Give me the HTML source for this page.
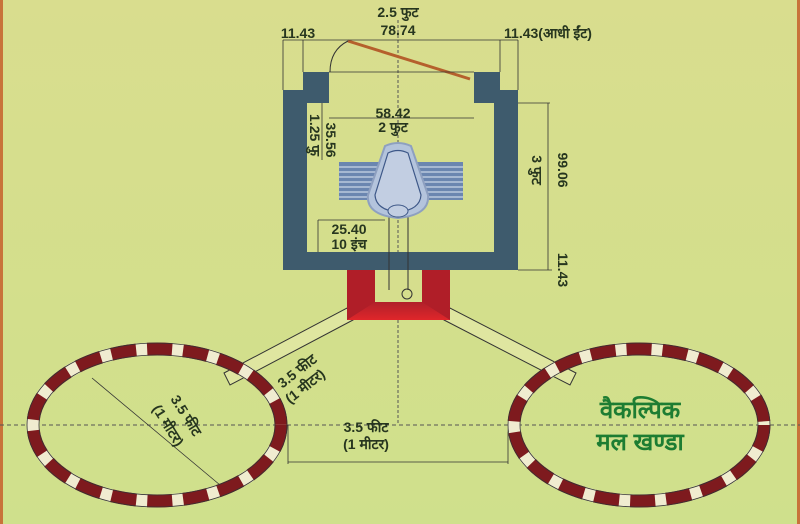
<!DOCTYPE html>
<html><head><meta charset="utf-8"><style>
html,body{margin:0;padding:0;width:800px;height:524px;overflow:hidden}
body{background:linear-gradient(180deg,#d9dd8e 0%,#d3df8c 60%,#cfe08c 100%)}
svg{position:absolute;left:0;top:0}
text{font-family:"Liberation Sans","Noto Sans CJK SC",sans-serif;fill:#27361f;font-weight:bold}
</style></head><body>
<svg width="800" height="524" viewBox="0 0 800 524">
<defs>
<linearGradient id="rg" x1="0" y1="0" x2="0" y2="1"><stop offset="0" stop-color="#b0202a"/><stop offset="1" stop-color="#e0262a"/></linearGradient>
</defs>
<rect x="0" y="0" width="3" height="524" fill="#c8733a"/>
<rect x="797" y="0" width="3" height="524" fill="#c8733a"/>
<line x1="0" y1="425" x2="800" y2="425" stroke="#555" stroke-width="1" stroke-dasharray="4,3"/>
<line x1="398" y1="20" x2="398" y2="425" stroke="#555" stroke-width="1" stroke-dasharray="3,2"/>
<g fill="#dfe6a0" stroke="#333" stroke-width="1">
<polygon points="347,308 353,320 230,385 224,373"/>
<polygon points="450,308 444,320 570,385 576,373"/>
</g>
<g fill="#3e5b6d">
<rect x="283" y="90" width="24" height="180"/>
<rect x="494" y="90" width="24" height="180"/>
<rect x="283" y="252" width="235" height="18"/>
<rect x="303" y="72" width="26" height="31"/>
<rect x="474" y="72" width="26" height="31"/>
<rect x="283" y="90" width="46" height="13"/>
<rect x="474" y="90" width="44" height="13"/>
</g>
<rect x="347" y="270" width="103" height="50" fill="#b01e28"/>
<polygon points="347,320 375,302 422,302 450,320" fill="url(#rg)"/>
<rect x="375" y="270" width="47" height="32" fill="#d6de8d"/>
<line x1="389" y1="215" x2="389" y2="290" stroke="#333" stroke-width="1"/>
<line x1="408" y1="215" x2="408" y2="290" stroke="#333" stroke-width="1"/>
<circle cx="407" cy="294" r="5" fill="none" stroke="#333"/>
<g fill="#6b86b0"><rect x="339" y="162" width="124" height="38"/></g>
<g stroke="#c9d6e6" stroke-width="1.3">
<line x1="339" y1="167" x2="463" y2="167"/><line x1="339" y1="172" x2="463" y2="172"/><line x1="339" y1="177" x2="463" y2="177"/><line x1="339" y1="182" x2="463" y2="182"/><line x1="339" y1="187" x2="463" y2="187"/><line x1="339" y1="192" x2="463" y2="192"/><line x1="339" y1="197" x2="463" y2="197"/>
</g>
<path d="M385,146 Q398,140 411,146 L428,195 Q430,215 398,218 Q366,215 368,195 Z" fill="#b4c4dc" stroke="#8ea0c0" stroke-width="2"/>
<path d="M388,153 Q398,148 408,153 L421,195 Q420,210 398,212 Q376,210 375,195 Z" fill="#c2cee2" stroke="#3e5888" stroke-width="1.2"/>
<ellipse cx="398" cy="211" rx="10" ry="6" fill="#c2cee2" stroke="#3e5888"/>
<line x1="348" y1="41" x2="470" y2="79" stroke="#b5602c" stroke-width="3"/>
<path d="M348,41 Q330,50 330,72" fill="none" stroke="#333"/>
<g stroke="#333" stroke-width="0.8" fill="none">
<line x1="283" y1="40" x2="518" y2="40"/>
<line x1="283" y1="40" x2="283" y2="90"/><line x1="303" y1="40" x2="303" y2="72"/>
<line x1="500" y1="40" x2="500" y2="72"/><line x1="518" y1="40" x2="518" y2="90"/>
<line x1="329" y1="72" x2="474" y2="72"/>
<line x1="329" y1="118" x2="474" y2="118"/>
<line x1="322" y1="103" x2="322" y2="160"/>
<line x1="518" y1="103" x2="550" y2="103"/>
<line x1="548" y1="103" x2="548" y2="270"/>
<line x1="518" y1="270" x2="552" y2="270"/>
<line x1="318" y1="220" x2="318" y2="252"/>
<line x1="318" y1="220" x2="385" y2="220"/>
<line x1="288" y1="462" x2="508" y2="462"/>
<line x1="288" y1="425" x2="288" y2="464"/><line x1="508" y1="425" x2="508" y2="464"/>
<line x1="92" y1="378" x2="220" y2="485"/>
</g>
<g fill="none">
<ellipse cx="157" cy="425" rx="124" ry="76" stroke="#f0ecd0" stroke-width="13"/>
<ellipse cx="157" cy="425" rx="124" ry="76" stroke="#7e1a1e" stroke-width="13" stroke-dasharray="25,11"/>
<ellipse cx="157" cy="425" rx="130" ry="82" stroke="#333" stroke-width="0.8"/>
<ellipse cx="157" cy="425" rx="118" ry="70" stroke="#333" stroke-width="0.8"/>
<ellipse cx="639" cy="425" rx="125" ry="76" stroke="#f0ecd0" stroke-width="13"/>
<ellipse cx="639" cy="425" rx="125" ry="76" stroke="#7e1a1e" stroke-width="13" stroke-dasharray="25,11"/>
<ellipse cx="639" cy="425" rx="131" ry="82" stroke="#333" stroke-width="0.8"/>
<ellipse cx="639" cy="425" rx="119" ry="70" stroke="#333" stroke-width="0.8"/>
</g>
<g font-size="14" text-anchor="middle">
<text x="398" y="17">2.5 फुट</text>
<text x="398" y="35">78.74</text>
<text x="298" y="38">11.43</text>
<text x="548" y="38">11.43(आधी ईंट)</text>
<text x="393" y="118">58.42</text>
<text x="393" y="132">2 फुट</text>
<text x="349" y="234">25.40</text>
<text x="349" y="249">10 इंच</text>
<text transform="translate(310,135) rotate(90)">1.25 फु</text>
<text transform="translate(326,140) rotate(90)">35.56</text>
<text transform="translate(532,170) rotate(90)">3 फुट</text>
<text transform="translate(558,170) rotate(90)">99.06</text>
<text transform="translate(558,270) rotate(90)">11.43</text>
<text x="366" y="432">3.5 फीट</text>
<text x="366" y="449">(1 मीटर)</text>
<text transform="translate(300,375) rotate(-38)">3.5 फीट</text>
<text transform="translate(308,390) rotate(-38)">(1 मीटर)</text>
<text transform="translate(182,418) rotate(58)">3.5 फीट</text>
<text transform="translate(164,428) rotate(58)">(1 मीटर)</text>
</g>
<text x="640" y="418" font-size="24" text-anchor="middle" style="fill:#1d7d32">वैकल्पिक</text>
<text x="640" y="450" font-size="24" text-anchor="middle" style="fill:#1d7d32">मल खण्डा</text>
</svg>
</body></html>
